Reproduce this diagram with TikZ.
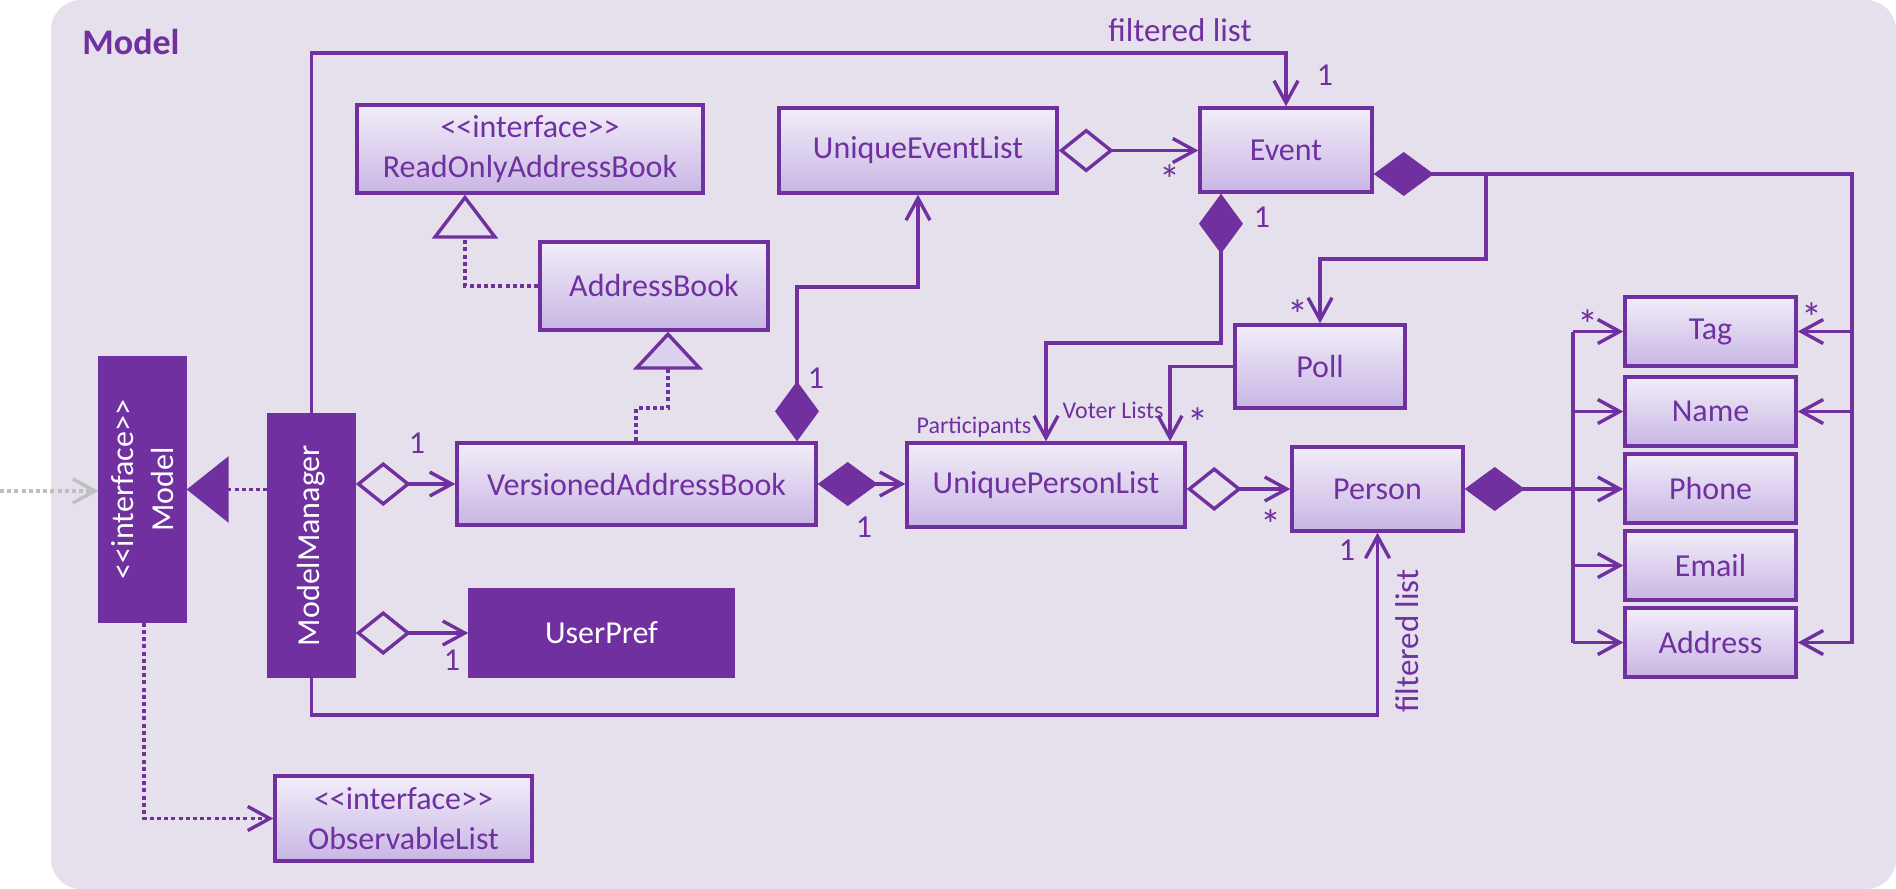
\documentclass[tikz,border=0pt]{standalone}
\usepackage{fontspec}
\setmainfont{Carlito}
\usetikzlibrary{arrows.meta,calc}
\definecolor{pur}{HTML}{7030A0}
\definecolor{bgc}{HTML}{E5E0EC}
\definecolor{gtop}{HTML}{F2EDF9}
\definecolor{gbot}{HTML}{C8B6E4}
\definecolor{gmid}{HTML}{DCD0EF}
\definecolor{grayc}{HTML}{BFBFBF}
\newcommand{\intf}{<{}<interface>{}>}
\begin{document}
\begin{tikzpicture}[x=0.5pt,y=-0.5pt,
  every node/.style={font=\fontsize{16}{20}\selectfont, text=pur},
  cls/.style={draw=pur, line width=1.7pt, top color=gtop, bottom color=gbot, inner sep=0pt, align=center},
  dark/.style={draw=pur, fill=pur, line width=1.7pt, text=white, inner sep=0pt, align=center},
  con/.style={draw=pur, line width=1.7pt},
  dots/.style={dash pattern=on 2pt off 1.6pt},
  opentip/.tip={Straight Barb[length=11pt,width=12pt]},
  assoc/.style={con, -opentip},
  agg/.style={con, {Diamond[open,length=27.5pt,width=22pt]}-opentip},
  comp/.style={con, {Diamond[length=30pt,width=22pt]}-opentip},
  realopen/.style={con, dots, -{Triangle[open,length=22pt,width=33pt]}},
  realgrad/.style={con, dots, -{Triangle[fill=gmid,length=19pt,width=35pt]}},
  realfill/.style={con, dots, -{Triangle[length=21pt,width=33pt]}},
  depend/.style={con, dots, -opentip},
  small/.style={font=\fontsize{12}{14}\selectfont},
  star/.style={font=\fontsize{21}{22}\selectfont},
]
\useasboundingbox (0,0) rectangle (1896,889);
\fill[bgc, rounded corners=15pt] (51,0) rectangle (1896,889);
\node[font=\bfseries\fontsize{18}{20}\selectfont] (title) at (131,42) {Model};

% classes
\node[cls, minimum width=173pt, minimum height=44pt] (roab) at (530,149) {\intf\\ReadOnlyAddressBook};
\node[cls, minimum width=114pt, minimum height=44pt] (ab) at (654,286) {AddressBook};
\node[cls, minimum width=139pt, minimum height=42.5pt] (uel) at (918,150.5) {UniqueEventList};
\node[cls, minimum width=86pt, minimum height=42pt] (event) at (1286,150) {Event};
\node[cls, minimum width=85pt, minimum height=41.5pt] (poll) at (1320,366.5) {Poll};
\node[cls, minimum width=179.5pt, minimum height=41pt] (vab) at (636.5,484) {VersionedAddressBook};
\node[cls, minimum width=139pt, minimum height=42pt] (upl) at (1046,485) {UniquePersonList};
\node[cls, minimum width=85.5pt, minimum height=42pt] (person) at (1377.5,489) {Person};
\node[cls, minimum width=85.5pt, minimum height=34.5pt] (tag) at (1710.5,331.5) {Tag};
\node[cls, minimum width=85.5pt, minimum height=34.5pt] (name) at (1710.5,411.5) {Name};
\node[cls, minimum width=85.5pt, minimum height=34.5pt] (phone) at (1710.5,488.5) {Phone};
\node[cls, minimum width=85.5pt, minimum height=34.5pt] (email) at (1710.5,565.5) {Email};
\node[cls, minimum width=85.5pt, minimum height=34.5pt] (address) at (1710.5,642.5) {Address};
\node[cls, minimum width=128.5pt, minimum height=42.5pt] (obs) at (403.5,818.5) {\intf\\ObservableList};
\node[dark, minimum width=42.5pt, minimum height=131.5pt] (model) at (142.5,489.5) {};
\node[rotate=90, text=white, align=center] (modeltxt) at (model) {\intf\\Model};
\node[dark, minimum width=42.5pt, minimum height=130.5pt] (mm) at (311.5,545.5) {};
\node[rotate=90, text=white] (mmtxt) at (mm) {ModelManager};
\node[dark, minimum width=131.5pt, minimum height=43pt] (up) at (601.5,633) {UserPref};

% connectors
\coordinate (ext) at (0,491);
\draw[con, draw=grayc, dots, -opentip] (ext) -- (ext -| model.west);
\draw[realfill] (mm.west |- model.east) -- (model.east);
\draw[depend] (model.south -| 144,0) |- (obs.west);
\draw[realopen] (ab.west) -| (roab.south -| 465,0);
\draw[realgrad] (vab.north -| 636,0) |- (668,408) -- (ab.south -| 668,0);
\draw[agg] (mm.east |- vab.west) -- (vab.west);
\draw[agg] (mm.east |- up.west) -- (up.west);
\draw[assoc] (mm.north) |- (event.north |- 0,53) -- (event.north);
\draw[assoc] (mm.south) |- (person.south |- 0,715) -- (person.south);
\draw[comp] (vab.east) -- (vab.east -| upl.west);
\draw[comp] (vab.north -| 797,0) |- (uel.south |- 0,287) -- (uel.south);
\draw[agg] (uel.east) -- (uel.east -| event.west);
\draw[comp] (event.east |- 0,174) -- (1852,174) |- (address.east);
\draw[assoc] (1486,174) |- (poll.north |- 0,259) -- (poll.north);
\draw[assoc] (tag.east -| 1852,0) -- (tag.east);
\draw[assoc] (name.east -| 1852,0) -- (name.east);
\draw[comp] (event.south -| 1221,0) |- (upl.north |- 0,343) -- (upl.north);
\draw[assoc] (poll.west) -| (upl.north -| 1170,0);
\draw[agg] (upl.east |- person.west) -- (person.west);
\draw[comp] (person.east) -- (person.east -| phone.west);
\draw[con] (tag.west -| 1573,0) -- (address.west -| 1573,0);
\draw[assoc] (tag.west -| 1573,0) -- (tag.west);
\draw[assoc] (name.west -| 1573,0) -- (name.west);
\draw[assoc] (email.west -| 1573,0) -- (email.west);
\draw[assoc] (address.west -| 1573,0) -- (address.west);

% labels
\node (l1) at (417,443) {1};
\node (l2) at (452,660) {1};
\node (l3) at (816,378) {1};
\node (l4) at (864,527) {1};
\node[star] (l5) at (1170,180) {*};
\node (l6) at (1325,75) {1};
\node[font=\fontsize{16.5}{20}\selectfont] (l7) at (1180,30) {filtered list};
\node (l8) at (1262,217) {1};
\node[star] (l9) at (1298,315) {*};
\node[small] (l10) at (974,427) {Participants};
\node[small] (l11) at (1113,410) {Voter Lists};
\node[star] (l12) at (1198,423) {*};
\node[star] (l13) at (1271,525) {*};
\node (l14) at (1347,550) {1};
\node[rotate=90, font=\fontsize{16.5}{20}\selectfont] (l15) at (1407,641) {filtered list};
\node[star] (l16) at (1588,325) {*};
\node[star] (l17) at (1812,318) {*};
\end{tikzpicture}
\end{document}
